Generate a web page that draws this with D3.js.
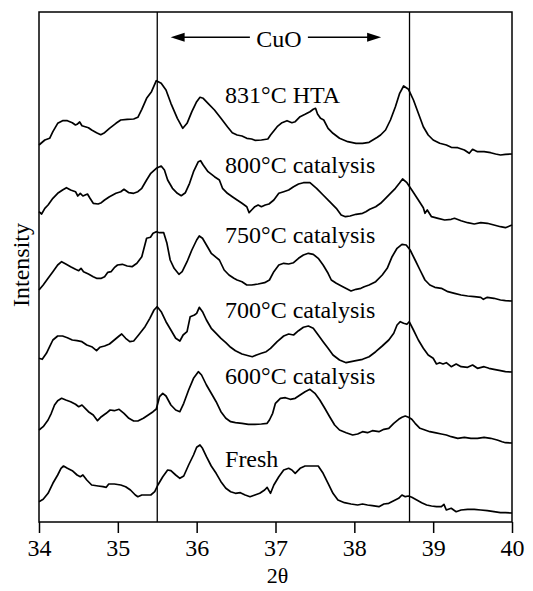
<!DOCTYPE html>
<html><head><meta charset="utf-8">
<script src="https://cdn.jsdelivr.net/npm/d3@7"></script>
<style>body{margin:0;background:#fff}svg{display:block}</style>
</head><body>
<svg id="c" width="533" height="591"></svg>
<script>
// ---- data (2θ in degrees, intensity in arbitrary units; traces are stacked) ----
const xTicks = [34, 35, 36, 37, 38, 39, 40];
const refLines = [35.5, 38.7];
const seriesNames = ["831°C HTA", "800°C catalysis", "750°C catalysis", "700°C catalysis", "600°C catalysis", "Fresh"];
const labelAnchors = [[36.36, 419], [36.36, 349], [36.36, 279], [36.36, 204], [36.36, 138], [36.36, 55]];
const cuoRange = [35.67, 38.34];
const cuoLevel = 484.7;

const hta831 = [[34.0,377],[34.074,382],[34.135,383.7],[34.176,390.3],[34.237,398.7],[34.299,401.3],[34.36,401.3],[34.422,399.3],[34.463,397],[34.483,397.7],[34.516,400],[34.545,396.3],[34.586,395.3],[34.627,394.3],[34.668,392],[34.73,389.3],[34.783,387.3],[34.832,389.3],[34.894,393.7],[34.976,398.7],[35.037,402],[35.119,402.7],[35.201,403],[35.254,404.7],[35.304,412.7],[35.365,423.7],[35.427,430.3],[35.488,441.3],[35.55,438.7],[35.611,432],[35.673,418.7],[35.755,403.7],[35.824,393.7],[35.878,398.7],[35.939,410.3],[36.0,420.3],[36.042,424.7],[36.083,423.7],[36.144,418.7],[36.226,412],[36.308,403.7],[36.39,395.3],[36.452,389.3],[36.513,387],[36.575,386],[36.636,383.7],[36.697,383],[36.739,381.7],[36.821,382],[36.903,383],[36.937,387],[37.021,395.3],[37.083,399.3],[37.146,401.3],[37.208,399.3],[37.25,400.3],[37.312,405.3],[37.375,407.7],[37.437,410.3],[37.479,412.7],[37.508,413.7],[37.533,408],[37.571,403.7],[37.612,402],[37.667,393.7],[37.729,388.7],[37.812,383.7],[37.917,380.3],[38.021,378.7],[38.104,378.7],[38.187,379.7],[38.25,382.7],[38.292,384.7],[38.333,387],[38.396,392],[38.458,402],[38.521,415.3],[38.575,428.7],[38.625,436],[38.687,432.7],[38.75,422],[38.812,408.7],[38.875,395.3],[38.937,387],[39.0,382],[39.083,378.7],[39.167,377],[39.229,374.7],[39.312,374.3],[39.396,372],[39.458,368.7],[39.5,372.7],[39.562,370.3],[39.646,370.3],[39.729,369.3],[39.792,368],[39.854,367],[39.917,367.7],[40.0,368]];

const cat800 = [[34.0,310.3],[34.033,308],[34.074,313.7],[34.115,317],[34.176,323.7],[34.237,328.7],[34.299,332],[34.348,334.3],[34.401,332],[34.463,330.3],[34.492,326],[34.524,328.7],[34.557,326],[34.586,327],[34.615,328],[34.647,323.7],[34.688,318.7],[34.75,318],[34.791,319.3],[34.832,322],[34.894,325.3],[34.935,327],[34.976,328.7],[35.037,330.3],[35.078,332.7],[35.14,329.3],[35.201,328.7],[35.254,330.3],[35.304,333.7],[35.365,342],[35.418,348.7],[35.488,353.7],[35.55,356],[35.591,352],[35.632,342],[35.693,333.7],[35.755,328.7],[35.804,326.3],[35.857,329.3],[35.91,338.7],[35.96,350.3],[36.021,360.3],[36.05,361.3],[36.083,357],[36.144,350.3],[36.226,345.3],[36.288,342],[36.328,333.7],[36.39,328.7],[36.452,325.3],[36.513,322],[36.575,318.7],[36.636,315.3],[36.665,309.3],[36.697,312],[36.738,315.3],[36.78,317],[36.821,315.3],[36.87,317],[36.917,318],[36.979,322],[37.042,328.7],[37.104,330.3],[37.167,332],[37.229,335.3],[37.292,338],[37.354,339.3],[37.437,339.3],[37.521,333.7],[37.604,327],[37.687,320.3],[37.771,313.7],[37.833,307],[37.887,305.3],[37.946,306],[38.021,307.7],[38.104,308.7],[38.146,310.3],[38.196,312.7],[38.271,315.3],[38.333,318.7],[38.396,323.7],[38.458,328.7],[38.521,333.7],[38.571,338.7],[38.612,343],[38.667,339.3],[38.729,332],[38.812,322],[38.875,314.3],[38.896,308.7],[38.925,312],[38.979,305.3],[39.062,303.7],[39.146,302],[39.229,302.7],[39.271,303.7],[39.354,301.3],[39.437,299.3],[39.521,298],[39.604,299.3],[39.687,298.7],[39.771,297],[39.854,295.3],[39.917,294.3],[40.0,297]];

const cat750 = [[34.0,232],[34.053,237],[34.115,243.7],[34.176,250.3],[34.237,257],[34.287,260.3],[34.34,258],[34.401,255.3],[34.463,252.7],[34.504,251.3],[34.533,253.7],[34.565,250.3],[34.627,248],[34.688,245.3],[34.73,243.7],[34.791,243.7],[34.832,245.3],[34.873,249.7],[34.914,250.3],[34.955,254.3],[34.996,257],[35.057,257.7],[35.119,256],[35.18,255.3],[35.242,258.7],[35.304,265.3],[35.365,283.7],[35.414,284.7],[35.447,288.7],[35.488,290.3],[35.529,289.3],[35.582,289.3],[35.623,278.7],[35.664,262],[35.714,253.7],[35.775,247.7],[35.816,250.3],[35.878,260.3],[35.939,272],[36.0,282],[36.033,286],[36.074,283.7],[36.124,277],[36.185,268.7],[36.247,264.7],[36.288,262],[36.349,252],[36.41,247],[36.472,243.7],[36.513,242],[36.575,240.3],[36.636,237],[36.697,237],[36.78,238],[36.862,239.3],[36.923,242],[36.979,250.3],[37.042,257],[37.104,258.7],[37.167,258],[37.229,259.3],[37.292,263.7],[37.354,267],[37.417,268.7],[37.479,267.7],[37.542,263.7],[37.604,257],[37.667,248.7],[37.708,242],[37.771,238.7],[37.854,235.3],[37.958,231],[38.021,232.7],[38.083,233.7],[38.125,235.3],[38.187,237],[38.271,240.3],[38.354,247],[38.417,253.7],[38.479,265.3],[38.542,273.7],[38.604,277.7],[38.658,277],[38.708,272],[38.771,262],[38.833,252],[38.896,242],[38.958,237],[39.021,234.7],[39.104,233.7],[39.187,230.3],[39.271,228.7],[39.354,227],[39.437,226],[39.521,225.3],[39.604,224.7],[39.637,222.7],[39.687,224.7],[39.771,223.7],[39.854,222],[39.917,221.3],[40.0,221]];

const cat700 = [[34.0,163.7],[34.041,162.7],[34.094,168.7],[34.135,175.3],[34.176,182],[34.237,186],[34.299,186],[34.36,184.3],[34.422,182],[34.483,181.3],[34.545,180.3],[34.606,177],[34.668,175.3],[34.73,171.3],[34.771,174.7],[34.832,176],[34.894,178],[34.955,182],[35.016,186],[35.049,188],[35.099,183.7],[35.152,180.3],[35.201,181],[35.263,187],[35.345,195.3],[35.406,203.7],[35.459,212],[35.5,215.3],[35.55,210.3],[35.611,200.3],[35.673,192],[35.734,183.7],[35.787,181],[35.828,187],[35.878,190.3],[35.918,205.3],[35.972,207],[36.0,208.7],[36.033,214.7],[36.074,210.3],[36.124,202],[36.185,193.7],[36.247,188.7],[36.308,183.7],[36.37,179.3],[36.431,174.7],[36.492,171.3],[36.575,168],[36.656,166.3],[36.706,165.3],[36.759,167],[36.821,168.7],[36.882,170.3],[36.937,173.7],[37.021,180.3],[37.104,186],[37.167,188],[37.229,187],[37.292,191.3],[37.354,194.7],[37.417,196],[37.479,193.7],[37.542,187],[37.604,180.3],[37.667,173.7],[37.729,167],[37.812,162],[37.896,159.3],[37.958,160.3],[38.021,161.3],[38.104,162.7],[38.187,165.3],[38.271,170.3],[38.354,176],[38.437,182],[38.5,188.7],[38.542,197],[38.583,200.3],[38.625,198.7],[38.667,197.7],[38.696,200.3],[38.75,192],[38.812,182],[38.875,173.7],[38.937,167],[39.0,163.7],[39.042,158],[39.083,159.3],[39.125,158],[39.167,159.3],[39.229,155.3],[39.292,158],[39.354,155.3],[39.437,154.7],[39.5,157],[39.562,153.7],[39.646,155.3],[39.708,153.7],[39.771,152.7],[39.854,151.3],[39.917,150.3],[40.0,150]];

const cat600 = [[34.0,92],[34.053,95.3],[34.115,102],[34.156,108.7],[34.197,117],[34.237,121.3],[34.287,123.7],[34.34,122],[34.401,120.3],[34.463,117.7],[34.504,115.3],[34.545,117],[34.586,113.7],[34.627,110.3],[34.688,107],[34.742,101.3],[34.791,105.3],[34.852,108.7],[34.902,112],[34.955,111.3],[35.016,112.7],[35.078,108.7],[35.14,103.7],[35.201,101],[35.254,101],[35.324,103.7],[35.386,107],[35.447,110.3],[35.488,113],[35.529,125.3],[35.57,128.7],[35.611,126],[35.673,117],[35.734,112],[35.787,110.3],[35.836,118.7],[35.898,132],[35.96,143.7],[36.021,150.3],[36.062,147],[36.124,137],[36.185,128.7],[36.247,120.3],[36.308,110.3],[36.37,103.7],[36.431,100.3],[36.492,99.3],[36.575,98.7],[36.656,97.7],[36.739,97.7],[36.821,98],[36.894,98.7],[36.923,102],[36.964,108.7],[36.999,118.7],[37.062,123.7],[37.125,124.3],[37.187,122.7],[37.25,123.7],[37.312,127],[37.375,130.3],[37.437,132.7],[37.5,128.7],[37.562,122],[37.625,113.7],[37.687,105.3],[37.75,97],[37.812,92],[37.896,89.3],[37.979,87],[38.042,88],[38.104,90.3],[38.167,89.3],[38.229,91.3],[38.312,90.3],[38.375,92.7],[38.437,93.7],[38.5,98.7],[38.562,102.7],[38.604,104.7],[38.646,106],[38.687,104.7],[38.729,102.7],[38.771,98.7],[38.833,93.7],[38.896,92],[38.958,90.3],[39.021,89.3],[39.104,88],[39.167,87],[39.229,85.3],[39.312,83.7],[39.396,84.7],[39.479,83.7],[39.562,83.7],[39.646,84.7],[39.729,83.7],[39.812,82],[39.875,80.3],[39.917,79.3],[40.0,79]];

const fresh = [[34.0,20.3],[34.053,22.7],[34.115,28.7],[34.176,38.7],[34.237,47],[34.279,53.7],[34.311,56],[34.36,53.7],[34.422,51.3],[34.483,47],[34.524,45.3],[34.557,47],[34.606,42],[34.668,37],[34.75,36],[34.812,35.3],[34.853,34.7],[34.885,38],[34.955,38],[35.037,37],[35.099,35.3],[35.16,32],[35.222,27],[35.254,25.3],[35.304,27],[35.365,27],[35.418,27],[35.468,30.3],[35.508,37],[35.57,45.3],[35.632,52],[35.673,51.3],[35.734,47],[35.787,43.7],[35.836,46],[35.898,57],[35.96,67],[36.0,74.7],[36.042,77],[36.074,73.7],[36.124,65.3],[36.185,56],[36.247,48.7],[36.308,40.3],[36.37,33.7],[36.431,30.3],[36.492,28.7],[36.554,29.3],[36.615,27],[36.677,25.3],[36.739,27],[36.8,28.7],[36.862,32],[36.894,34.7],[36.937,28.7],[36.979,37],[37.042,45.3],[37.104,52],[37.167,53.7],[37.208,52],[37.25,48.7],[37.312,53.7],[37.375,56],[37.437,56],[37.542,56],[37.604,48.7],[37.667,38.7],[37.729,28.7],[37.792,22],[37.875,19.3],[37.958,18],[38.042,17],[38.104,18],[38.167,17],[38.229,16.3],[38.312,15.3],[38.375,18],[38.437,18.7],[38.5,21.3],[38.562,23.7],[38.604,27],[38.646,25.3],[38.687,26],[38.729,24.7],[38.792,22],[38.854,19.3],[38.917,17],[38.979,16],[39.042,15.3],[39.104,15.3],[39.137,17.7],[39.167,12],[39.229,13.7],[39.292,10.3],[39.354,12],[39.437,12.7],[39.521,12.7],[39.604,12],[39.687,11.3],[39.771,10.3],[39.854,9.3],[39.917,9.3],[40.0,9]];

const seriesData = [hta831, cat800, cat750, cat700, cat600, fresh];

// ---- drawing ----
const W = 533, H = 591;
const m = {left: 39, right: 21, top: 12, bottom: 69};
const font = '"Liberation Serif", "Times New Roman", serif';
const svg = d3.select("#c");

const x = d3.scaleLinear().domain([34, 40]).range([m.left, W - m.right]);
const y = d3.scaleLinear().domain([0, 510]).range([H - m.bottom, m.top]);

// reference lines
svg.append("g").selectAll("line").data(refLines).join("line")
  .attr("x1", d => x(d)).attr("x2", d => x(d))
  .attr("y1", y(510)).attr("y2", y(0))
  .attr("stroke", "#000").attr("stroke-width", 1.3);

// traces
const line = d3.line().x(d => x(d[0])).y(d => y(d[1]));
svg.append("g").selectAll("path").data(seriesData).join("path")
  .attr("d", line).attr("fill", "none")
  .attr("stroke", "#000").attr("stroke-width", 1.7).attr("stroke-linejoin", "round");

// frame
svg.append("rect")
  .attr("x", x(34)).attr("y", y(510))
  .attr("width", x(40) - x(34)).attr("height", y(0) - y(510))
  .attr("fill", "none").attr("stroke", "#000").attr("stroke-width", 1.5);

// x axis
const ax = svg.append("g").attr("transform", `translate(0,${y(0)})`)
  .call(d3.axisBottom(x).tickValues(xTicks).tickFormat(d3.format("d")).tickSize(11).tickSizeOuter(0).tickPadding(6));
ax.select(".domain").remove();
ax.selectAll(".tick line").attr("stroke", "#000").attr("stroke-width", 1.5);
ax.selectAll(".tick text").attr("font-family", font).attr("font-size", 24).attr("fill", "#000");

// axis titles
svg.append("text").attr("x", (x(34) + x(40)) / 2 + 2).attr("y", 583)
  .attr("text-anchor", "middle").attr("font-family", font).attr("font-size", 22).text("2θ");
svg.append("text").attr("transform", `translate(29,${265}) rotate(-90)`)
  .attr("text-anchor", "middle").attr("font-family", font).attr("font-size", 24).text("Intensity");

// trace labels
svg.append("g").selectAll("text").data(seriesNames).join("text")
  .attr("x", (d, i) => x(labelAnchors[i][0])).attr("y", (d, i) => y(labelAnchors[i][1]))
  .attr("font-family", font).attr("font-size", 24).attr("fill", "#000").text(d => d);

// CuO arrow annotation
const cx = x((cuoRange[0] + cuoRange[1]) / 2) + 3;
const yA = y(cuoLevel);
svg.append("text").attr("x", cx).attr("y", yA + 9.5).attr("text-anchor", "middle")
  .attr("font-family", font).attr("font-size", 24).text("CuO");
const ag = svg.append("g").attr("stroke", "#000").attr("stroke-width", 1.5);
ag.append("line").attr("x1", x(cuoRange[0]) + 10).attr("x2", cx - 29).attr("y1", yA).attr("y2", yA);
ag.append("line").attr("x1", cx + 29).attr("x2", x(cuoRange[1]) - 10).attr("y1", yA).attr("y2", yA);
const hx0 = x(cuoRange[0]), hx1 = x(cuoRange[1]);
svg.append("path").attr("d", `M${hx0},${yA} L${hx0 + 14},${yA - 4.5} L${hx0 + 14},${yA + 4.5} Z`).attr("fill", "#000");
svg.append("path").attr("d", `M${hx1},${yA} L${hx1 - 14},${yA - 4.5} L${hx1 - 14},${yA + 4.5} Z`).attr("fill", "#000");
</script>
</body></html>
